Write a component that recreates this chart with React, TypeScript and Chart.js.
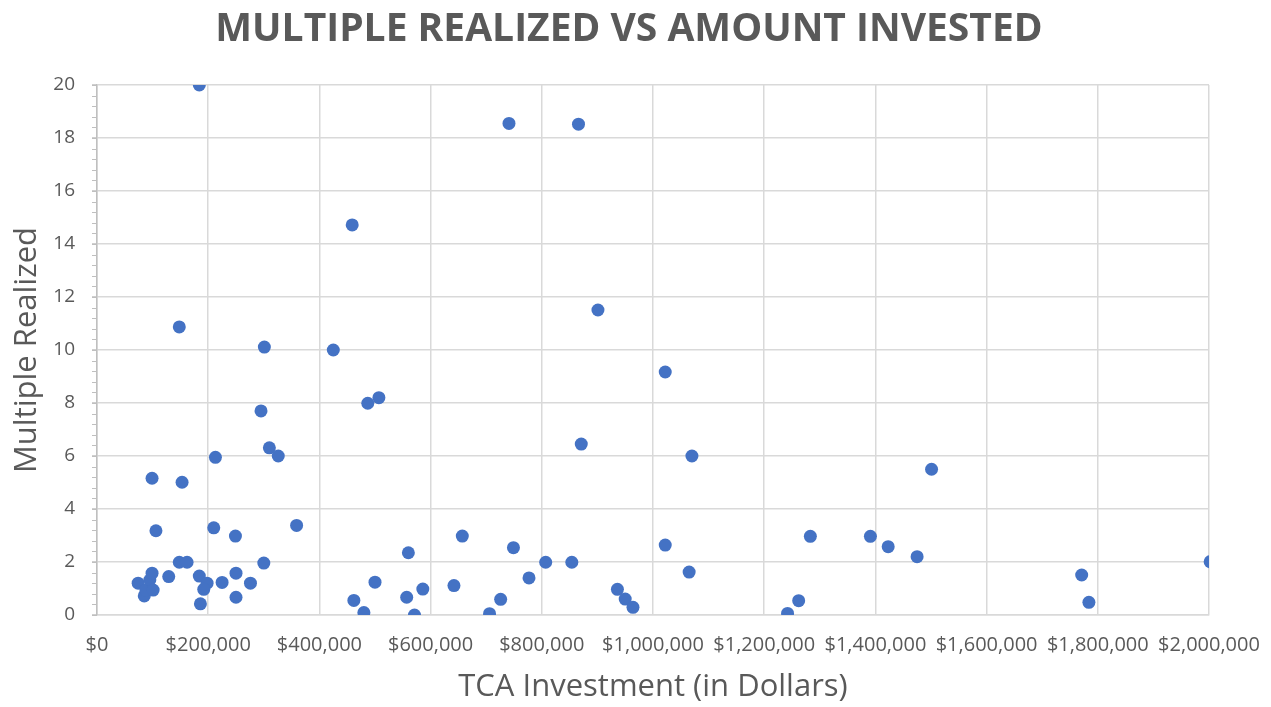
import React, { useEffect, useRef } from "react";
import { Chart, registerables } from "chart.js";

Chart.register(...registerables);

const TITLE = "MULTIPLE REALIZED VS AMOUNT INVESTED";
const X_TITLE = "TCA Investment (in Dollars)";
const Y_TITLE = "Multiple Realized";

// TCA investment in dollars
const investment: number[] = [
  184000, 741000, 866000, 459000, 148000, 301000, 425000, 901000, 1022000, 487000,
  507000, 295000, 871000, 310000, 326000, 213000, 1070000, 1501000, 99000, 153000,
  106000, 359000, 210000, 249000, 657000, 1283000, 1391000, 1423000, 1475000, 1022000,
  749000, 560000, 148000, 162000, 300000, 807000, 854000, 2002000, 1065000, 1771000,
  74000, 85000, 88000, 95000, 99000, 101000, 129000, 184000, 198000, 192000,
  186000, 225000, 250000, 250000, 276000, 462000, 480000, 500000, 557000, 571000,
  586000, 642000, 706000, 726000, 777000, 936000, 950000, 964000, 1242000, 1262000,
  1784000,
];

// Multiple realized
const multiple: number[] = [
  20.0, 18.55, 18.52, 14.72, 10.87, 10.11, 10.0, 11.51, 9.17, 7.99,
  8.2, 7.7, 6.45, 6.31, 6.0, 5.95, 6.0, 5.5, 5.16, 5.01,
  3.18, 3.38, 3.29, 2.98, 2.98, 2.97, 2.97, 2.58, 2.2, 2.64,
  2.54, 2.35, 1.99, 1.99, 1.96, 1.99, 1.99, 2.01, 1.62, 1.51,
  1.2, 0.72, 0.94, 1.32, 1.58, 0.94, 1.45, 1.47, 1.2, 0.97,
  0.42, 1.23, 1.58, 0.67, 1.2, 0.55, 0.09, 1.24, 0.67, 0.0,
  0.98, 1.11, 0.05, 0.59, 1.4, 0.97, 0.6, 0.29, 0.06, 0.54,
  0.48,
];

const X_MIN = 0;
const X_MAX = 2000000;
const X_STEP = 200000;
const Y_MIN = 0;
const Y_MAX = 20;
const Y_STEP = 2;
const Y_MINOR_STEP = 0.4;

const TEXT = "#595959";
const GRID = "#d9d9d9";
const DOT = "#4472C4";

const minorTicks = {
  id: "minorTicks",
  afterDraw(chart: any) {
    const y = chart.scales.y;
    const ctx = chart.ctx;
    const left = chart.chartArea.left;
    ctx.save();
    ctx.strokeStyle = "#bfbfbf";
    ctx.lineWidth = 1;
    const n = Math.round((Y_MAX - Y_MIN) / Y_MINOR_STEP);
    for (let i = 0; i <= n; i++) {
      const py = Math.round(y.getPixelForValue(Y_MIN + i * Y_MINOR_STEP)) + 0.5;
      ctx.beginPath();
      ctx.moveTo(left - 5, py);
      ctx.lineTo(left, py);
      ctx.stroke();
    }
    ctx.restore();
  },
};

const titlePlugin = {
  id: "customTitle",
  afterDraw(chart: any) {
    const ctx = chart.ctx;
    ctx.save();
    ctx.fillStyle = TEXT;
    ctx.font = 'bold 39px "Open Sans", sans-serif';
    ctx.textAlign = "center";
    ctx.textBaseline = "middle";
    ctx.fillText(TITLE, 629, 30);
    ctx.restore();
  },
};

export default function App() {
  const ref = useRef<HTMLCanvasElement | null>(null);

  useEffect(() => {
    if (!ref.current) return;
    Chart.defaults.font.family = '"Open Sans", sans-serif';
    const points = investment.map((x, i) => ({ x, y: multiple[i] }));
    const chart = new Chart(ref.current, {
      type: "scatter",
      data: {
        datasets: [
          {
            data: points,
            backgroundColor: DOT,
            borderColor: DOT,
            pointRadius: 6.5,
            pointHoverRadius: 6.5,
            borderWidth: 0,
          },
        ],
      },
      options: {
        animation: false,
        responsive: false,
        layout: { padding: { top: 85, left: 0, right: 62, bottom: 0 } },
        plugins: {
          legend: { display: false },
          tooltip: { enabled: false },
          title: { display: false },
        },
        scales: {
          x: {
            type: "linear",
            min: X_MIN,
            max: X_MAX,
            afterFit(scale: any) {
              scale.height = 92;
              scale.paddingLeft = 0;
              scale.paddingRight = 0;
            },
            ticks: {
              stepSize: X_STEP,
              color: TEXT,
              font: { size: 20 },
              padding: 18,
              maxRotation: 0,
              autoSkip: false,
              callback: (v: any) => "$" + Number(v).toLocaleString("en-US"),
            },
            grid: { color: GRID, lineWidth: 1.5, drawTicks: false },
            border: { color: GRID, width: 1.5 },
            title: {
              display: true,
              text: X_TITLE,
              color: TEXT,
              font: { size: 31 },
              padding: { top: 0, bottom: 1 },
            },
          },
          y: {
            type: "linear",
            min: Y_MIN,
            max: Y_MAX,
            afterFit(scale: any) {
              scale.width = 97;
            },
            ticks: {
              stepSize: Y_STEP,
              color: TEXT,
              font: { size: 19 },
              padding: 17,
            },
            grid: { color: GRID, lineWidth: 1.5, tickLength: 5, tickColor: "#bfbfbf", tickWidth: 1 },
            border: { color: "#bfbfbf", width: 1.5 },
            title: {
              display: true,
              text: Y_TITLE,
              color: TEXT,
              font: { size: 31 },
              padding: { top: 9, bottom: 0 },
            },
          },
        },
      },
      plugins: [minorTicks, titlePlugin],
    });
    return () => chart.destroy();
  }, []);

  return (
    <div style={{ position: "absolute", left: 0, top: 0, width: 1271, height: 707, background: "#fff" }}>
      <canvas ref={ref} width={1271} height={707} style={{ width: 1271, height: 707, display: "block" }} />
    </div>
  );
}
